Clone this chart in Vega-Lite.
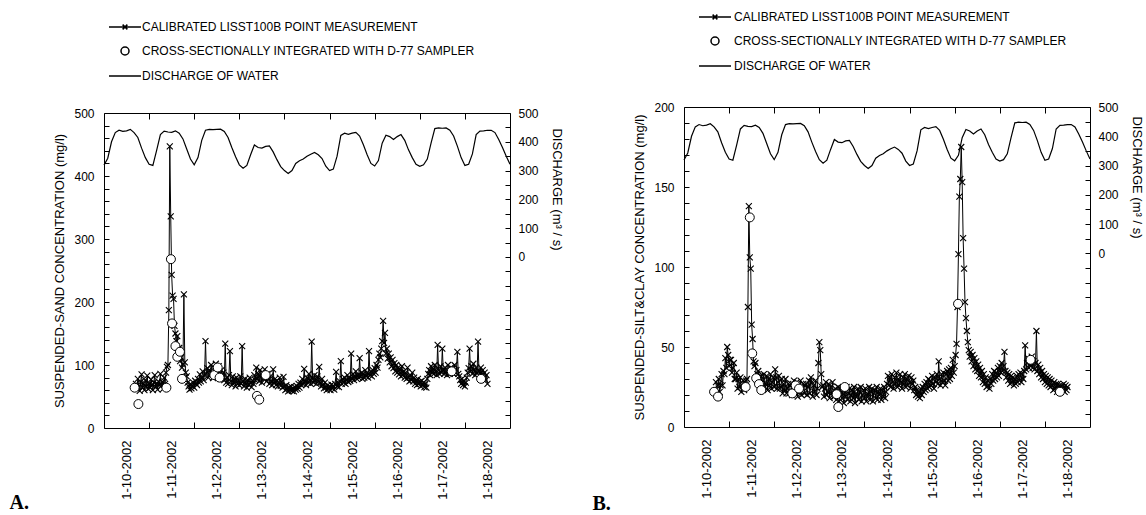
{
"$schema":"https://vega.github.io/schema/vega-lite/v6.json",
"background":"white",
"padding":{"left":8,"top":8,"right":0,"bottom":0},
"spacing":28,
"config":{
 "view":{"stroke":"black","strokeWidth":1},
 "font":"Liberation Sans",
 "axis":{"labelFont":"Liberation Sans","labelFontSize":12,"labelColor":"black","titleFont":"Liberation Sans","titleFontSize":13,"titleFontWeight":"normal","titleColor":"black","domainColor":"black","tickColor":"black","grid":false},
 "legend":{"labelFont":"Liberation Sans","labelFontSize":12,"labelColor":"black"}
},
"resolve":{"scale":{"shape":"independent"},"legend":{"shape":"independent"}},
"datasets":{
"discharge":[{"h":0,"q":319},{"h":2,"q":343},{"h":4,"q":400},{"h":6,"q":432},{"h":8,"q":440},{"h":10,"q":436},{"h":12,"q":438},{"h":14,"q":443},{"h":16,"q":432},{"h":18,"q":415},{"h":20,"q":378},{"h":22,"q":345},{"h":24,"q":322},{"h":26,"q":318},{"h":28,"q":370},{"h":30,"q":425},{"h":32,"q":437},{"h":34,"q":434},{"h":36,"q":433},{"h":38,"q":438},{"h":40,"q":430},{"h":42,"q":410},{"h":44,"q":375},{"h":46,"q":340},{"h":48,"q":320},{"h":50,"q":345},{"h":52,"q":405},{"h":54,"q":440},{"h":56,"q":443},{"h":58,"q":442},{"h":60,"q":443},{"h":62,"q":444},{"h":64,"q":436},{"h":66,"q":415},{"h":68,"q":380},{"h":70,"q":348},{"h":72,"q":320},{"h":74,"q":308},{"h":76,"q":318},{"h":78,"q":355},{"h":80,"q":389},{"h":82,"q":380},{"h":84,"q":378},{"h":86,"q":384},{"h":88,"q":386},{"h":90,"q":365},{"h":92,"q":338},{"h":94,"q":314},{"h":96,"q":300},{"h":98,"q":290},{"h":100,"q":300},{"h":102,"q":325},{"h":104,"q":334},{"h":106,"q":340},{"h":108,"q":350},{"h":110,"q":357},{"h":112,"q":363},{"h":114,"q":355},{"h":116,"q":342},{"h":118,"q":315},{"h":120,"q":300},{"h":122,"q":305},{"h":124,"q":350},{"h":126,"q":422},{"h":128,"q":430},{"h":130,"q":426},{"h":132,"q":430},{"h":134,"q":433},{"h":136,"q":420},{"h":138,"q":390},{"h":140,"q":355},{"h":142,"q":325},{"h":144,"q":316},{"h":146,"q":335},{"h":148,"q":395},{"h":150,"q":423},{"h":152,"q":418},{"h":154,"q":408},{"h":156,"q":418},{"h":158,"q":425},{"h":160,"q":405},{"h":162,"q":372},{"h":164,"q":345},{"h":166,"q":322},{"h":168,"q":315},{"h":170,"q":320},{"h":172,"q":340},{"h":174,"q":395},{"h":176,"q":446},{"h":178,"q":448},{"h":180,"q":447},{"h":182,"q":448},{"h":184,"q":440},{"h":186,"q":420},{"h":188,"q":385},{"h":190,"q":345},{"h":192,"q":318},{"h":194,"q":322},{"h":196,"q":358},{"h":198,"q":425},{"h":200,"q":437},{"h":202,"q":438},{"h":204,"q":440},{"h":206,"q":440},{"h":208,"q":432},{"h":210,"q":408},{"h":212,"q":380},{"h":214,"q":350},{"h":216,"q":322}],
"circA":[{"h":16.3,"v":64},{"h":18.3,"v":38},{"h":33.2,"v":64},{"h":35.6,"v":268},{"h":36.2,"v":166},{"h":38.0,"v":130},{"h":39.0,"v":113},{"h":40.4,"v":121},{"h":41.5,"v":78},{"h":58.7,"v":84},{"h":60.5,"v":96},{"h":61.5,"v":80},{"h":81.4,"v":51},{"h":82.6,"v":45},{"h":86.0,"v":84},{"h":185.0,"v":90},{"h":200.6,"v":78}],
"circB":[{"h":16.0,"v":22},{"h":18.1,"v":19},{"h":32.8,"v":25},{"h":35.0,"v":131},{"h":36.3,"v":46},{"h":38.4,"v":30.5},{"h":39.9,"v":26.8},{"h":41.1,"v":23.1},{"h":57.6,"v":21},{"h":59.4,"v":26},{"h":61.2,"v":24},{"h":81.2,"v":20.5},{"h":82.1,"v":12.5},{"h":85.5,"v":25},{"h":145.8,"v":77},{"h":184.4,"v":42},{"h":200.0,"v":22}],
"lisst":[
{"h":17.0,"a":70,"b":28},{"h":17.5,"a":62,"b":21},{"h":18.0,"a":78,"b":26},{"h":18.5,"a":66,"b":30},{"h":19.0,"a":59,"b":22},{"h":19.5,"a":73,"b":26},{"h":20.0,"a":85,"b":33},{"h":20.5,"a":64,"b":26},{"h":21.0,"a":71,"b":35},{"h":21.5,"a":60,"b":33},{"h":22.0,"a":76,"b":43},{"h":22.5,"a":66,"b":37},{"h":23.0,"a":83,"b":50},{"h":23.5,"a":62,"b":45},{"h":24.0,"a":70,"b":38},{"h":24.5,"a":64,"b":42},{"h":25.0,"a":77,"b":42},{"h":25.5,"a":68,"b":34},{"h":26.0,"a":60,"b":37},{"h":26.5,"a":72,"b":40},{"h":27.0,"a":84,"b":30},{"h":27.5,"a":65,"b":30},{"h":28.0,"a":71,"b":34},{"h":28.5,"a":61,"b":24},{"h":29.0,"a":74,"b":30},{"h":29.5,"a":68,"b":25},{"h":30.0,"a":86,"b":31},{"h":30.5,"a":67,"b":22},{"h":31.0,"a":73,"b":26},{"h":31.5,"a":62,"b":29},{"h":32.0,"a":80,"b":23},{"h":32.5,"a":70,"b":28},{"h":33.0,"a":88,"b":29},{"h":33.5,"a":97,"b":30},{"h":34.0,"a":100,"b":75},{"h":34.5,"a":187,"b":138},{"h":35.0,"a":447,"b":106},{"h":35.5,"a":336,"b":99},{"h":36.0,"a":243,"b":64},{"h":36.5,"a":210,"b":55},{"h":37.0,"a":205,"b":41},{"h":37.5,"a":162,"b":38},{"h":38.0,"a":150,"b":40},{"h":38.5,"a":138,"b":30},{"h":39.0,"a":146,"b":33},{"h":39.5,"a":118,"b":35},{"h":40.0,"a":127,"b":28},{"h":40.5,"a":106,"b":32},{"h":41.0,"a":112,"b":32},{"h":41.5,"a":96,"b":24},{"h":42.0,"a":101,"b":29},{"h":42.5,"a":212,"b":33},{"h":43.0,"a":104,"b":25},{"h":43.5,"a":88,"b":27},{"h":44.0,"a":82,"b":32},{"h":44.5,"a":72,"b":23},{"h":45.0,"a":66,"b":30},{"h":45.5,"a":61,"b":26},{"h":46.0,"a":70,"b":33},{"h":46.5,"a":63,"b":24},{"h":47.0,"a":67,"b":28},{"h":47.5,"a":72,"b":31},{"h":48.0,"a":64,"b":25},{"h":48.5,"a":75,"b":36},{"h":49.0,"a":70,"b":31},{"h":49.5,"a":68,"b":24},{"h":50.0,"a":78,"b":28},{"h":50.5,"a":72,"b":32},{"h":51.0,"a":85,"b":24},{"h":51.5,"a":74,"b":25},{"h":52.0,"a":80,"b":30},{"h":52.5,"a":90,"b":21},{"h":53.0,"a":76,"b":27},{"h":53.5,"a":84,"b":23},{"h":54.0,"a":138,"b":30},{"h":54.5,"a":86,"b":21},{"h":55.0,"a":95,"b":24},{"h":55.5,"a":80,"b":27},{"h":56.0,"a":92,"b":21},{"h":56.5,"a":84,"b":26},{"h":57.0,"a":100,"b":27},{"h":57.5,"a":88,"b":20},{"h":58.0,"a":79,"b":25},{"h":58.5,"a":96,"b":29},{"h":59.0,"a":85,"b":21},{"h":59.5,"a":102,"b":23},{"h":60.0,"a":90,"b":28},{"h":60.5,"a":83,"b":19},{"h":61.0,"a":98,"b":26},{"h":61.5,"a":86,"b":22},{"h":62.0,"a":78,"b":29},{"h":62.5,"a":92,"b":20},{"h":63.0,"a":82,"b":24},{"h":63.5,"a":88,"b":27},{"h":64.0,"a":76,"b":21},{"h":64.5,"a":134,"b":26},{"h":65.0,"a":72,"b":27},{"h":65.5,"a":80,"b":20},{"h":66.0,"a":70,"b":25},{"h":66.5,"a":84,"b":29},{"h":67.0,"a":122,"b":21},{"h":67.5,"a":74,"b":31},{"h":68.0,"a":68,"b":28},{"h":68.5,"a":82,"b":19},{"h":69.0,"a":72,"b":26},{"h":69.5,"a":78,"b":22},{"h":70.0,"a":66,"b":29},{"h":70.5,"a":80,"b":20},{"h":71.0,"a":70,"b":24},{"h":71.5,"a":76,"b":40},{"h":72.0,"a":68,"b":53},{"h":72.5,"a":82,"b":48},{"h":73.0,"a":70,"b":33},{"h":73.5,"a":130,"b":25},{"h":74.0,"a":74,"b":26},{"h":74.5,"a":66,"b":19},{"h":75.0,"a":78,"b":24},{"h":75.5,"a":70,"b":28},{"h":76.0,"a":64,"b":20},{"h":76.5,"a":76,"b":22},{"h":77.0,"a":68,"b":27},{"h":77.5,"a":80,"b":18},{"h":78.0,"a":72,"b":25},{"h":78.5,"a":65,"b":21},{"h":79.0,"a":75,"b":28},{"h":79.5,"a":70,"b":19},{"h":80.0,"a":84,"b":19},{"h":80.5,"a":76,"b":24},{"h":81.0,"a":96,"b":17},{"h":81.5,"a":78,"b":22},{"h":82.0,"a":86,"b":25},{"h":82.5,"a":74,"b":16},{"h":83.0,"a":92,"b":21},{"h":83.5,"a":80,"b":24},{"h":84.0,"a":72,"b":18},{"h":84.5,"a":88,"b":23},{"h":85.0,"a":78,"b":15},{"h":85.5,"a":93,"b":22},{"h":86.0,"a":82,"b":19},{"h":86.5,"a":74,"b":25},{"h":87.0,"a":86,"b":17},{"h":87.5,"a":78,"b":21},{"h":88.0,"a":70,"b":24},{"h":88.5,"a":82,"b":16},{"h":89.0,"a":74,"b":20},{"h":89.5,"a":68,"b":23},{"h":90.0,"a":93,"b":18},{"h":90.5,"a":72,"b":25},{"h":91.0,"a":78,"b":15},{"h":91.5,"a":68,"b":21},{"h":92.0,"a":75,"b":19},{"h":92.5,"a":66,"b":24},{"h":93.0,"a":72,"b":17},{"h":93.5,"a":80,"b":22},{"h":94.0,"a":67,"b":25},{"h":94.5,"a":73,"b":16},{"h":95.0,"a":64,"b":20},{"h":95.5,"a":81,"b":23},{"h":96.0,"a":66,"b":18},{"h":96.5,"a":60,"b":24},{"h":97.0,"a":68,"b":16},{"h":97.5,"a":62,"b":21},{"h":98.0,"a":58,"b":19},{"h":98.5,"a":65,"b":25},{"h":99.0,"a":60,"b":17},{"h":99.5,"a":66,"b":22},{"h":100.0,"a":59,"b":24},{"h":100.5,"a":63,"b":16},{"h":101.0,"a":58,"b":21},{"h":101.5,"a":65,"b":23},{"h":102.0,"a":61,"b":18},{"h":102.5,"a":67,"b":25},{"h":103.0,"a":62,"b":17},{"h":103.5,"a":70,"b":22},{"h":104.0,"a":64,"b":20},{"h":104.5,"a":72,"b":24},{"h":105.0,"a":68,"b":17},{"h":105.5,"a":78,"b":23},{"h":106.0,"a":70,"b":19},{"h":106.5,"a":94,"b":25},{"h":107.0,"a":74,"b":18},{"h":107.5,"a":68,"b":22},{"h":108.0,"a":80,"b":27},{"h":108.5,"a":72,"b":32},{"h":109.0,"a":86,"b":26},{"h":109.5,"a":76,"b":31},{"h":110.0,"a":70,"b":25},{"h":110.5,"a":137,"b":33},{"h":111.0,"a":78,"b":28},{"h":111.5,"a":72,"b":24},{"h":112.0,"a":84,"b":31},{"h":112.5,"a":76,"b":27},{"h":113.0,"a":70,"b":34},{"h":113.5,"a":82,"b":25},{"h":114.0,"a":74,"b":30},{"h":114.5,"a":97,"b":26},{"h":115.0,"a":72,"b":33},{"h":115.5,"a":66,"b":28},{"h":116.0,"a":78,"b":24},{"h":116.5,"a":68,"b":31},{"h":117.0,"a":63,"b":27},{"h":117.5,"a":72,"b":33},{"h":118.0,"a":64,"b":25},{"h":118.5,"a":60,"b":30},{"h":119.0,"a":68,"b":26},{"h":119.5,"a":62,"b":32},{"h":120.0,"a":66,"b":28},{"h":120.5,"a":60,"b":24},{"h":121.0,"a":69,"b":31},{"h":121.5,"a":63,"b":27},{"h":122.0,"a":67,"b":29},{"h":122.5,"a":61,"b":23},{"h":123.0,"a":70,"b":25},{"h":123.5,"a":89,"b":20},{"h":124.0,"a":66,"b":23},{"h":124.5,"a":72,"b":19},{"h":125.0,"a":65,"b":22},{"h":125.5,"a":74,"b":18},{"h":126.0,"a":106,"b":24},{"h":126.5,"a":70,"b":20},{"h":127.0,"a":78,"b":25},{"h":127.5,"a":72,"b":22},{"h":128.0,"a":80,"b":27},{"h":128.5,"a":70,"b":23},{"h":129.0,"a":76,"b":28},{"h":129.5,"a":84,"b":24},{"h":130.0,"a":73,"b":30},{"h":130.5,"a":80,"b":25},{"h":131.0,"a":75,"b":29},{"h":131.5,"a":118,"b":26},{"h":132.0,"a":78,"b":32},{"h":132.5,"a":86,"b":27},{"h":133.0,"a":76,"b":24},{"h":133.5,"a":82,"b":31},{"h":134.0,"a":90,"b":28},{"h":134.5,"a":78,"b":33},{"h":135.0,"a":84,"b":27},{"h":135.5,"a":80,"b":41},{"h":136.0,"a":111,"b":30},{"h":136.5,"a":82,"b":26},{"h":137.0,"a":88,"b":33},{"h":137.5,"a":78,"b":28},{"h":138.0,"a":86,"b":34},{"h":138.5,"a":80,"b":29},{"h":139.0,"a":92,"b":26},{"h":139.5,"a":82,"b":33},{"h":140.0,"a":88,"b":35},{"h":140.5,"a":80,"b":29},{"h":141.0,"a":122,"b":36},{"h":141.5,"a":84,"b":30},{"h":142.0,"a":90,"b":37},{"h":142.5,"a":82,"b":32},{"h":143.0,"a":92,"b":42},{"h":143.5,"a":86,"b":34},{"h":144.0,"a":95,"b":38},{"h":144.5,"a":88,"b":45},{"h":145.0,"a":100,"b":52},{"h":145.5,"a":96,"b":75},{"h":146.0,"a":108,"b":108},{"h":146.5,"a":118,"b":144},{"h":147.0,"a":112,"b":155},{"h":147.5,"a":126,"b":175},{"h":148.0,"a":138,"b":153},{"h":148.5,"a":170,"b":118},{"h":149.0,"a":135,"b":99},{"h":149.5,"a":151,"b":78},{"h":150.0,"a":118,"b":68},{"h":150.5,"a":126,"b":60},{"h":151.0,"a":110,"b":53},{"h":151.5,"a":118,"b":48},{"h":152.0,"a":104,"b":44},{"h":152.5,"a":112,"b":47},{"h":153.0,"a":98,"b":41},{"h":153.5,"a":108,"b":45},{"h":154.0,"a":95,"b":38},{"h":154.5,"a":103,"b":43},{"h":155.0,"a":90,"b":36},{"h":155.5,"a":100,"b":41},{"h":156.0,"a":88,"b":35},{"h":156.5,"a":96,"b":39},{"h":157.0,"a":85,"b":32},{"h":157.5,"a":93,"b":37},{"h":158.0,"a":82,"b":31},{"h":158.5,"a":98,"b":35},{"h":159.0,"a":84,"b":28},{"h":159.5,"a":90,"b":33},{"h":160.0,"a":80,"b":27},{"h":160.5,"a":88,"b":31},{"h":161.0,"a":78,"b":25},{"h":161.5,"a":96,"b":29},{"h":162.0,"a":80,"b":26},{"h":162.5,"a":74,"b":24},{"h":163.0,"a":84,"b":30},{"h":163.5,"a":76,"b":27},{"h":164.0,"a":88,"b":33},{"h":164.5,"a":74,"b":29},{"h":165.0,"a":80,"b":35},{"h":165.5,"a":70,"b":30},{"h":166.0,"a":76,"b":34},{"h":166.5,"a":68,"b":31},{"h":167.0,"a":78,"b":37},{"h":167.5,"a":70,"b":32},{"h":168.0,"a":73,"b":38},{"h":168.5,"a":66,"b":34},{"h":169.0,"a":75,"b":40},{"h":169.5,"a":68,"b":35},{"h":170.0,"a":72,"b":38},{"h":170.5,"a":65,"b":47},{"h":171.0,"a":70,"b":35},{"h":171.5,"a":64,"b":31},{"h":172.0,"a":78,"b":34},{"h":172.5,"a":86,"b":29},{"h":173.0,"a":92,"b":33},{"h":173.5,"a":84,"b":27},{"h":174.0,"a":98,"b":32},{"h":174.5,"a":88,"b":28},{"h":175.0,"a":94,"b":31},{"h":175.5,"a":86,"b":26},{"h":176.0,"a":100,"b":30},{"h":176.5,"a":90,"b":27},{"h":177.0,"a":84,"b":32},{"h":177.5,"a":132,"b":28},{"h":178.0,"a":92,"b":33},{"h":178.5,"a":86,"b":29},{"h":179.0,"a":98,"b":34},{"h":179.5,"a":88,"b":28},{"h":180.0,"a":126,"b":33},{"h":180.5,"a":92,"b":30},{"h":181.0,"a":86,"b":35},{"h":181.5,"a":96,"b":51},{"h":182.0,"a":90,"b":36},{"h":182.5,"a":84,"b":40},{"h":183.0,"a":100,"b":43},{"h":183.5,"a":90,"b":37},{"h":184.0,"a":86,"b":42},{"h":184.5,"a":96,"b":38},{"h":185.0,"a":88,"b":44},{"h":185.5,"a":94,"b":37},{"h":186.0,"a":86,"b":41},{"h":186.5,"a":100,"b":36},{"h":187.0,"a":88,"b":40},{"h":187.5,"a":92,"b":60},{"h":188.0,"a":121,"b":35},{"h":188.5,"a":86,"b":39},{"h":189.0,"a":82,"b":33},{"h":189.5,"a":76,"b":37},{"h":190.0,"a":70,"b":31},{"h":190.5,"a":78,"b":35},{"h":191.0,"a":68,"b":30},{"h":191.5,"a":74,"b":33},{"h":192.0,"a":66,"b":28},{"h":192.5,"a":72,"b":32},{"h":193.0,"a":80,"b":27},{"h":193.5,"a":88,"b":31},{"h":194.0,"a":95,"b":26},{"h":194.5,"a":126,"b":30},{"h":195.0,"a":90,"b":25},{"h":195.5,"a":98,"b":29},{"h":196.0,"a":86,"b":26},{"h":196.5,"a":102,"b":23},{"h":197.0,"a":92,"b":28},{"h":197.5,"a":84,"b":24},{"h":198.0,"a":96,"b":27},{"h":198.5,"a":88,"b":22},{"h":199.0,"a":137,"b":27},{"h":199.5,"a":90,"b":23},{"h":200.0,"a":82,"b":26},{"h":200.5,"a":96,"b":22},{"h":201.0,"a":84,"b":26},{"h":201.5,"a":92,"b":23},{"h":202.0,"a":80,"b":27},{"h":202.5,"a":88,"b":22},{"h":203.0,"a":76,"b":26},{"h":203.5,"a":84,"b":23},{"h":204.0,"a":70,"b":25}
]
},
"hconcat":[
{"spacing":0,"vconcat":[
{"width":1,"height":7,"view":{"stroke":null},"data":{"values":[]},"mark":{"type":"point","opacity":0,"size":0},"encoding":{}},
{
 "width":406,"height":315,
 "resolve":{"scale":{"y":"independent"},"axis":{"x":"independent"}},
 "layer":[
  {"data":{"name":"discharge"},"mark":{"type":"line","color":"black","strokeWidth":1.2},
   "encoding":{
    "x":{"field":"h","type":"quantitative","scale":{"domain":[0,216],"nice":false,"zero":false},
         "axis":{"orient":"top","values":[24,48,72,96,120,144,168,192],"labels":false,"tickSize":-6,"domain":false,"title":null}},
    "y":{"field":"q","type":"quantitative","scale":{"domain":[-594,500],"nice":false,"zero":false},
         "axis":{"orient":"right","values":[-550,-500,-450,-400,-350,-300,-250,-200,-150,-100,-50,0,50,100,150,200,250,300,350,400,450,500],"labelExpr":"datum.value >= 0 && datum.value % 100 === 0 ? datum.label : ''","tickSize":-5,"labelPadding":13,"domain":false,"title":"DISCHARGE (m³ / s)","titleAngle":90,"titleX":46,"titleY":76,"titleAlign":"center","titleBaseline":"middle"}}
   }},
  {"data":{"name":"lisst"},"mark":{"type":"line","color":"black","strokeWidth":1},
   "encoding":{
    "x":{"field":"h","type":"quantitative","scale":{"domain":[0,216],"nice":false,"zero":false},
         "axis":{"orient":"bottom","values":[24,48,72,96,120,144,168,192],"labels":false,"tickSize":-6,"domain":false,"title":null}},
    "y":{"field":"a","type":"quantitative","scale":{"domain":[0,500],"nice":false},
         "axis":{"orient":"left","values":[0,20,40,60,80,100,120,140,160,180,200,220,240,260,280,300,320,340,360,380,400,420,440,460,480,500],"labelExpr":"datum.value % 100 === 0 ? datum.label : ''","tickSize":-5,"labelPadding":15,"domain":false,"title":"SUSPENDED-SAND CONCENTRATION (mg/l)","titlePadding":7}}
   }},
  {"data":{"name":"lisst"},"mark":{"type":"point","shape":"M-1,-1L1,1M-1,1L1,-1","size":36,"filled":false,"color":"black","strokeWidth":1.1,"opacity":1},
   "encoding":{
    "x":{"field":"h","type":"quantitative","scale":{"domain":[0,216],"nice":false,"zero":false},"axis":null},
    "y":{"field":"a","type":"quantitative","scale":{"domain":[0,500],"nice":false},"axis":null}
   }},
  {"data":{"name":"circA"},"mark":{"type":"point","filled":false,"fill":"white","color":"black","strokeWidth":1,"size":324,"opacity":1},
   "encoding":{
    "x":{"field":"h","type":"quantitative","scale":{"domain":[0,216],"nice":false,"zero":false},
         "axis":{"orient":"bottom","values":[12,36,60,84,108,132,156,180,204],"ticks":false,"tickSize":0,"domain":false,"labelExpr":"'1-' + (10 + floor(datum.value / 24)) + '-2002'","labelAngle":270,"labelAlign":"right","labelBaseline":"middle","labelPadding":12,"labelFontSize":13,
                 "title":"A.","titleX":-95,"titleY":80,"titleAlign":"left","titleBaseline":"alphabetic","titleAngle":0,"titleFont":"Liberation Serif","titleFontSize":20,"titleFontWeight":"bold"}},
    "y":{"field":"v","type":"quantitative","scale":{"domain":[0,500],"nice":false},"axis":null},
    "shape":{"datum":"CROSS-SECTIONALLY INTEGRATED WITH D-77 SAMPLER","type":"nominal",
      "scale":{"domain":["CALIBRATED LISST100B POINT MEASUREMENT","CROSS-SECTIONALLY INTEGRATED WITH D-77 SAMPLER","DISCHARGE OF WATER"],
               "range":["M-2,0H2M-0.3,-0.3L0.3,0.3M-0.3,0.3L0.3,-0.3","M0.5,0A0.5,0.5,0,1,1,-0.5,0A0.5,0.5,0,1,1,0.5,0Z","M-2,0H2"]},
      "legend":{"orient":"none","legendX":2,"legendY":-91,"padding":10,"direction":"vertical","title":null,"symbolSize":256,"labelOffset":8,"rowPadding":9,"labelFontSize":12,"labelLimit":0}}
   }}
 ]
}]},
{"spacing":0,"vconcat":[
{"width":1,"height":1,"view":{"stroke":null},"data":{"values":[]},"mark":{"type":"point","opacity":0,"size":0},"encoding":{}},
{
 "width":406,"height":320,
 "resolve":{"scale":{"y":"independent"},"axis":{"x":"independent"}},
 "layer":[
  {"data":{"name":"discharge"},"mark":{"type":"line","color":"black","strokeWidth":1.2},
   "encoding":{
    "x":{"field":"h","type":"quantitative","scale":{"domain":[0,216],"nice":false,"zero":false},
         "axis":{"orient":"top","values":[24,48,72,96,120,144,168,192],"labels":false,"tickSize":-6,"domain":false,"title":null}},
    "y":{"field":"q","type":"quantitative","scale":{"domain":[-594,500],"nice":false,"zero":false},
         "axis":{"orient":"right","values":[-550,-500,-450,-400,-350,-300,-250,-200,-150,-100,-50,0,50,100,150,200,250,300,350,400,450,500],"labelExpr":"datum.value >= 0 && datum.value % 100 === 0 ? datum.label : ''","tickSize":-5,"labelPadding":13,"domain":false,"title":"DISCHARGE (m³ / s)","titleAngle":90,"titleX":46,"titleY":70,"titleAlign":"center","titleBaseline":"middle"}}
   }},
  {"data":{"name":"lisst"},"mark":{"type":"line","color":"black","strokeWidth":1},
   "encoding":{
    "x":{"field":"h","type":"quantitative","scale":{"domain":[0,216],"nice":false,"zero":false},
         "axis":{"orient":"bottom","values":[24,48,72,96,120,144,168,192],"labels":false,"tickSize":-6,"domain":false,"title":null}},
    "y":{"field":"b","type":"quantitative","scale":{"domain":[0,200],"nice":false},
         "axis":{"orient":"left","values":[0,10,20,30,40,50,60,70,80,90,100,110,120,130,140,150,160,170,180,190,200],"labelExpr":"datum.value % 50 === 0 ? datum.label : ''","tickSize":-5,"labelPadding":15,"domain":false,"title":"SUSPENDED-SILT&CLAY CONCENTRATION (mg/l)","titlePadding":7}}
   }},
  {"data":{"name":"lisst"},"mark":{"type":"point","shape":"M-1,-1L1,1M-1,1L1,-1","size":36,"filled":false,"color":"black","strokeWidth":1.1,"opacity":1},
   "encoding":{
    "x":{"field":"h","type":"quantitative","scale":{"domain":[0,216],"nice":false,"zero":false},"axis":null},
    "y":{"field":"b","type":"quantitative","scale":{"domain":[0,200],"nice":false},"axis":null}
   }},
  {"data":{"name":"circB"},"mark":{"type":"point","filled":false,"fill":"white","color":"black","strokeWidth":1,"size":324,"opacity":1},
   "encoding":{
    "x":{"field":"h","type":"quantitative","scale":{"domain":[0,216],"nice":false,"zero":false},
         "axis":{"orient":"bottom","values":[12,36,60,84,108,132,156,180,204],"ticks":false,"tickSize":0,"domain":false,"labelExpr":"'1-' + (10 + floor(datum.value / 24)) + '-2002'","labelAngle":270,"labelAlign":"right","labelBaseline":"middle","labelPadding":12,"labelFontSize":13,
                 "title":"B.","titleX":-92,"titleY":82,"titleAlign":"left","titleBaseline":"alphabetic","titleAngle":0,"titleFont":"Liberation Serif","titleFontSize":20,"titleFontWeight":"bold"}},
    "y":{"field":"v","type":"quantitative","scale":{"domain":[0,200],"nice":false},"axis":null},
    "shape":{"datum":"CROSS-SECTIONALLY INTEGRATED WITH D-77 SAMPLER","type":"nominal",
      "scale":{"domain":["CALIBRATED LISST100B POINT MEASUREMENT","CROSS-SECTIONALLY INTEGRATED WITH D-77 SAMPLER","DISCHARGE OF WATER"],
               "range":["M-2,0H2M-0.3,-0.3L0.3,0.3M-0.3,0.3L0.3,-0.3","M0.5,0A0.5,0.5,0,1,1,-0.5,0A0.5,0.5,0,1,1,0.5,0Z","M-2,0H2"]},
      "legend":{"orient":"none","legendX":22,"legendY":-91,"padding":0,"direction":"vertical","title":null,"symbolSize":256,"labelOffset":10,"rowPadding":9,"labelFontSize":12,"labelLimit":0}}
   }}
 ]
}]}
]
}
